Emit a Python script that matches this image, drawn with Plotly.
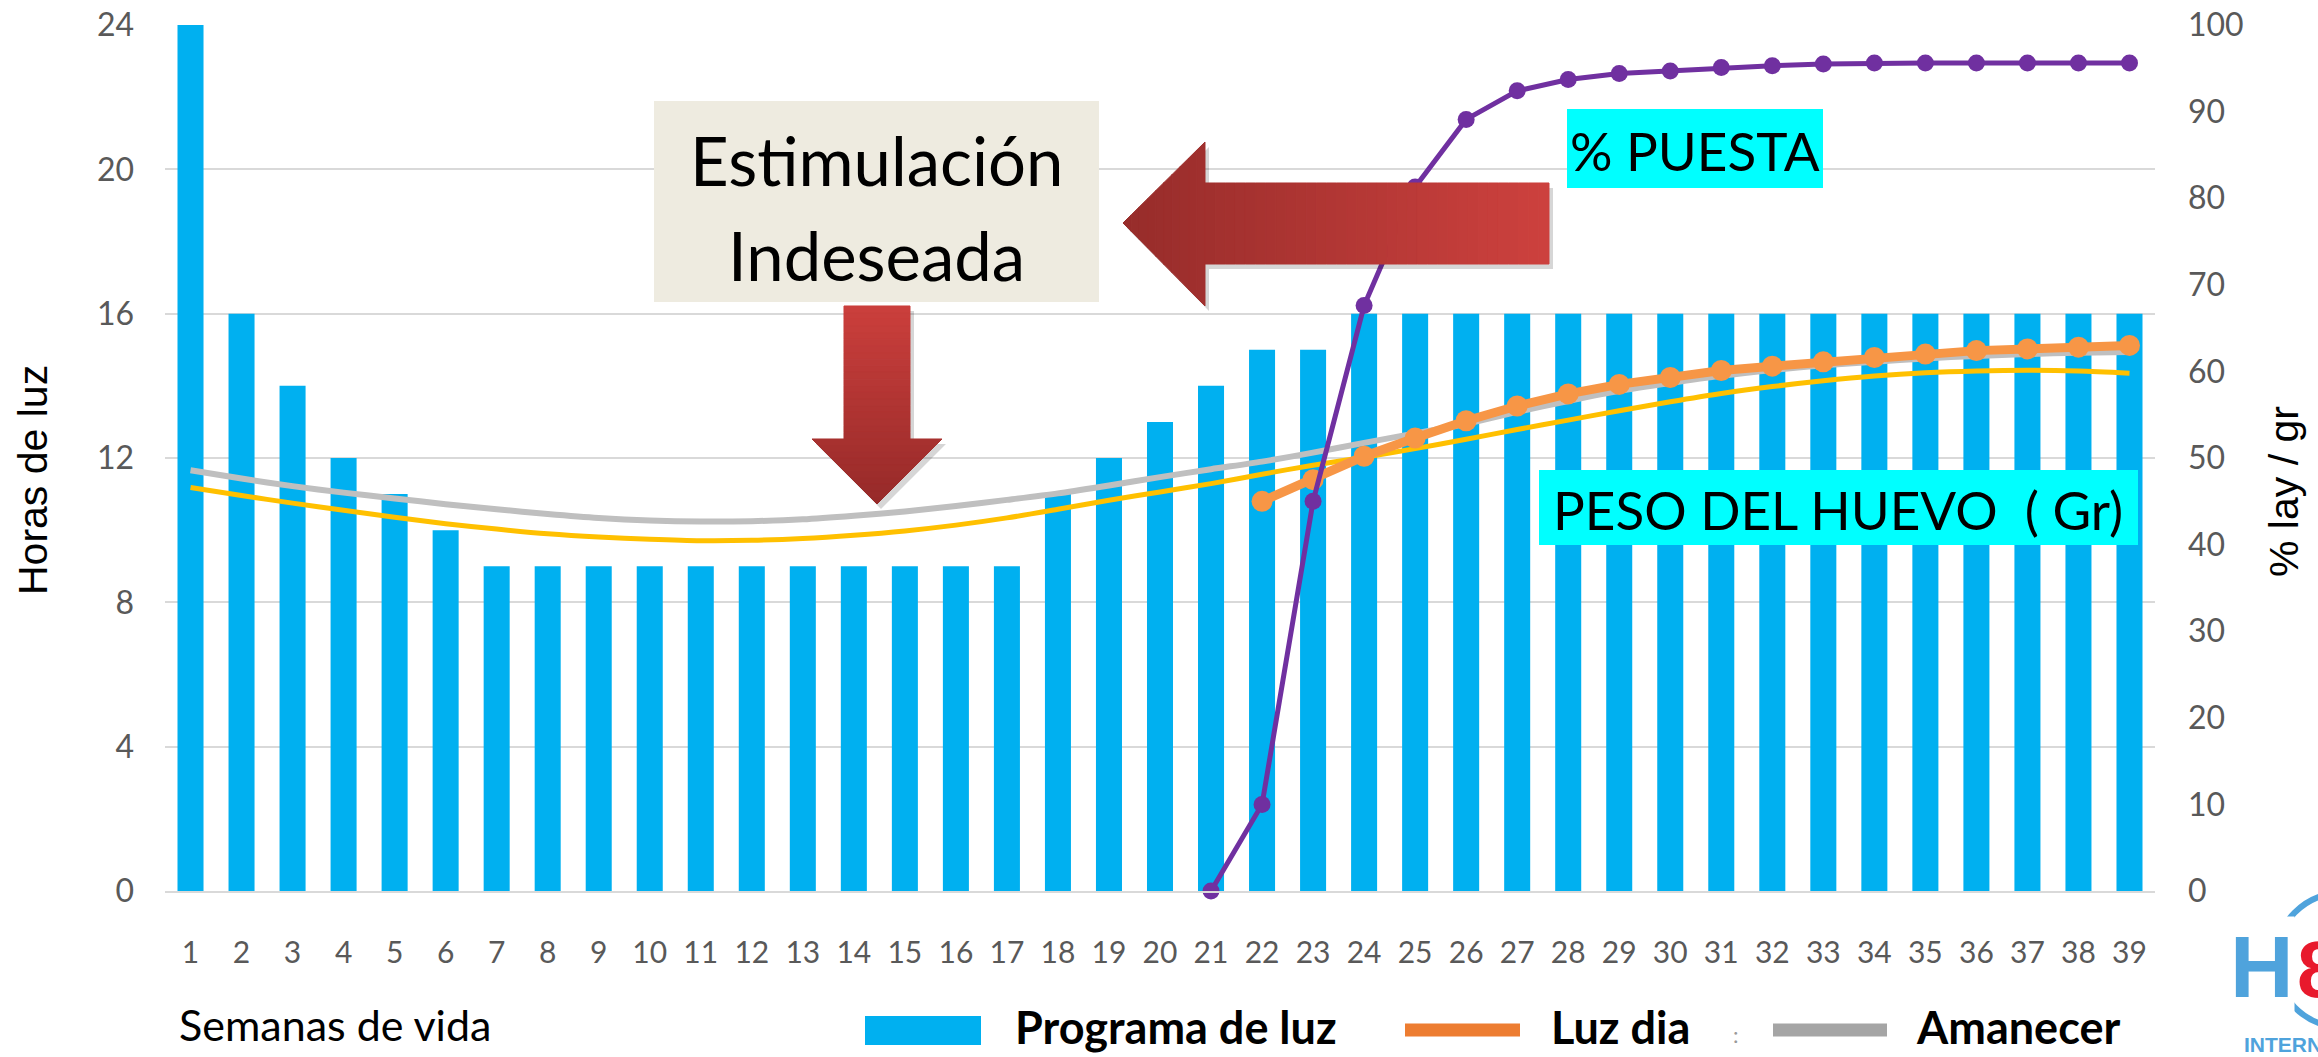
import plotly.graph_objects as go

# ---------------- data ----------------
weeks = [1, 2, 3, 4, 5, 6, 7, 8, 9, 10, 11, 12, 13, 14, 15, 16, 17, 18, 19, 20,
         21, 22, 23, 24, 25, 26, 27, 28, 29, 30, 31, 32, 33, 34, 35, 36, 37, 38, 39]
week_labels = [str(w) for w in weeks]

programa_luz = [24, 16, 14, 12, 11, 10, 9, 9, 9, 9, 9, 9, 9, 9, 9, 9, 9, 11, 12, 13,
                14, 15, 15, 16, 16, 16, 16, 16, 16, 16, 16, 16, 16, 16, 16, 16, 16, 16, 16]

amanecer = [11.66, 11.43, 11.22, 11.04, 10.88, 10.72, 10.58, 10.45, 10.34, 10.27,
            10.24, 10.25, 10.30, 10.40, 10.52, 10.67, 10.84, 11.02, 11.24, 11.47,
            11.69, 11.90, 12.15, 12.42, 12.68, 12.95, 13.28, 13.58, 13.86, 14.08,
            14.28, 14.44, 14.57, 14.67, 14.76, 14.83, 14.88, 14.92, 14.94]

luz_amarilla = [11.18, 10.96, 10.75, 10.55, 10.36, 10.18, 10.03, 9.90, 9.81, 9.75,
                9.71, 9.72, 9.77, 9.86, 9.98, 10.14, 10.34, 10.58, 10.83, 11.06,
                11.29, 11.55, 11.80, 12.02, 12.26, 12.52, 12.79, 13.05, 13.31, 13.56,
                13.79, 13.98, 14.14, 14.27, 14.36, 14.41, 14.43, 14.41, 14.35]

weeks_peso = [22, 23, 24, 25, 26, 27, 28, 29, 30, 31, 32, 33, 34, 35, 36, 37, 38, 39]
peso_huevo = [45.0, 47.5, 50.2, 52.3, 54.3, 56.0, 57.4, 58.5, 59.3, 60.1, 60.6, 61.1,
              61.6, 62.0, 62.4, 62.6, 62.8, 63.0]

weeks_puesta = [21, 22, 23, 24, 25, 26, 27, 28, 29, 30, 31, 32, 33, 34, 35, 36, 37, 38, 39]
puesta = [0, 10, 45, 67.6, 81.3, 89.1, 92.4, 93.7, 94.4, 94.7, 95.1, 95.3, 95.5, 95.6,
          95.6, 95.6, 95.6, 95.6, 95.6]

left_ticks = [0, 4, 8, 12, 16, 20, 24]
right_ticks = [0, 10, 20, 30, 40, 50, 60, 70, 80, 90, 100]

# ---------------- geometry helpers (pixel -> paper) ----------------
W_FIG, H_FIG = 2318, 1057
L, R, T, B = 165, 2155, 25, 891
PW, PH = R - L, B - T


def PX(x):
    return (x - L) / PW


def PY(y):
    return (B - y) / PH


def hex2rgb(h):
    h = h.lstrip('#')
    return tuple(int(h[i:i + 2], 16) for i in (0, 2, 4))


def mix(c1, c2, t):
    a, b = hex2rgb(c1), hex2rgb(c2)
    return 'rgb(%d,%d,%d)' % tuple(round(a[i] + (b[i] - a[i]) * t) for i in range(3))


def poly(pts):
    return 'M ' + ' L '.join('%.6f,%.6f' % (PX(x), PY(y)) for x, y in pts) + ' Z'


FONT = 'Lato, "Open Sans", sans-serif'
ARIAL = '"Liberation Sans", Arial, sans-serif'
TICK_COLOR = '#595959'

fig = go.Figure()

fig.add_trace(go.Bar(x=weeks, y=programa_luz, name='Programa de luz',
                     marker=dict(color='#00B0F0', line=dict(width=0)),
                     showlegend=False, yaxis='y'))

fig.add_trace(go.Scatter(x=weeks, y=luz_amarilla, mode='lines', name='Linea amarilla',
                         line=dict(color='#FFC000', width=5, shape='spline', smoothing=0.8),
                         showlegend=False, yaxis='y'))
fig.add_trace(go.Scatter(x=weeks, y=amanecer, mode='lines', name='Amanecer',
                         line=dict(color='#BFBFBF', width=6, shape='spline', smoothing=0.8),
                         showlegend=False, yaxis='y'))
fig.add_trace(go.Scatter(x=weeks_peso, y=peso_huevo, mode='lines+markers', name='Luz dia',
                         line=dict(color='#F79646', width=9),
                         marker=dict(color='#F79646', size=21),
                         showlegend=False, yaxis='y2', cliponaxis=False))
fig.add_trace(go.Scatter(x=weeks_puesta, y=puesta, mode='lines+markers', name='% PUESTA',
                         line=dict(color='#7030A0', width=5),
                         marker=dict(color='#7030A0', size=17),
                         showlegend=False, yaxis='y2', cliponaxis=False))

shapes = []
annotations = []

# ---- beige box "Estimulación Indeseada"
shapes.append(dict(type='rect', xref='paper', yref='paper',
                   x0=PX(654), x1=PX(1099), y0=PY(302), y1=PY(101),
                   fillcolor='#EEEBE0', line=dict(width=0), layer='above'))
annotations.append(dict(xref='paper', yref='paper', x=PX(876), y=PY(160), text='Estimulación',
                        showarrow=False, xanchor='center', yanchor='middle',
                        font=dict(family=FONT, size=67, color='black')))
annotations.append(dict(xref='paper', yref='paper', x=PX(876), y=PY(255), text='Indeseada',
                        showarrow=False, xanchor='center', yanchor='middle',
                        font=dict(family=FONT, size=67, color='black')))

# ---- left arrow (horizontal gradient)
tipx, tipy = 1123, 223
hx, htop, hbot = 1205, 142, 306
sx1, stop, sbot = 1549, 183, 264
shadow_pts = [(tipx, tipy), (hx, htop), (hx, stop), (sx1, stop), (sx1, sbot), (hx, sbot), (hx, hbot)]
shapes.append(dict(type='path', xref='paper', yref='paper',
                   path=poly([(x + 4, y + 5) for x, y in shadow_pts]),
                   fillcolor='rgba(0,0,0,0.16)', line=dict(width=0), layer='above'))


def head_top(x):
    return tipy - (x - tipx) / (hx - tipx) * (tipy - htop)


def head_bot(x):
    return tipy + (x - tipx) / (hx - tipx) * (hbot - tipy)


n_head, n_shaft = 10, 34
xs = [tipx + (hx - tipx) * i / n_head for i in range(n_head + 1)]
xs += [hx + (sx1 - hx) * i / n_shaft for i in range(1, n_shaft + 1)]
for i in range(len(xs) - 1):
    a, b = xs[i], xs[i + 1]
    t = ((a + b) / 2 - tipx) / (sx1 - tipx)
    col = mix('#962C2A', '#CD413E', t)
    if b <= hx + 1e-9:
        pts = [(a, head_top(a)), (b, head_top(b)), (b, head_bot(b)), (a, head_bot(a))]
    else:
        pts = [(a, stop), (b, stop), (b, sbot), (a, sbot)]
    shapes.append(dict(type='path', xref='paper', yref='paper', path=poly(pts),
                       fillcolor=col, line=dict(color=col, width=1), layer='above'))

# ---- down arrow (vertical gradient)
dx0, dx1, dtop = 844, 910, 306
dhy, dhx0, dhx1 = 439, 812, 942
dtipx, dtipy = 877, 504
shadow_pts = [(dx0, dtop), (dx1, dtop), (dx1, dhy), (dhx1, dhy), (dtipx, dtipy), (dhx0, dhy), (dx0, dhy)]
shapes.append(dict(type='path', xref='paper', yref='paper',
                   path=poly([(x + 4, y + 5) for x, y in shadow_pts]),
                   fillcolor='rgba(0,0,0,0.16)', line=dict(width=0), layer='above'))


def dhalf(y):
    return (dtipy - y) / (dtipy - dhy) * (dhx1 - dhx0) / 2


ys = [dtop + (dhy - dtop) * i / 20 for i in range(21)]
ys += [dhy + (dtipy - dhy) * i / 10 for i in range(1, 11)]
for i in range(len(ys) - 1):
    a, b = ys[i], ys[i + 1]
    t = ((a + b) / 2 - dtop) / (dtipy - dtop)
    col = mix('#CB3F3C', '#962A29', t)
    if a >= dhy - 1e-9:
        pts = [(dtipx - dhalf(a), a), (dtipx + dhalf(a), a), (dtipx + dhalf(b), b), (dtipx - dhalf(b), b)]
    else:
        pts = [(dx0, a), (dx1, a), (dx1, b), (dx0, b)]
    shapes.append(dict(type='path', xref='paper', yref='paper', path=poly(pts),
                       fillcolor=col, line=dict(color=col, width=1), layer='above'))

# ---- cyan labels
shapes.append(dict(type='rect', xref='paper', yref='paper',
                   x0=PX(1567), x1=PX(1823), y0=PY(188), y1=PY(109),
                   fillcolor='#00FFFF', line=dict(width=0), layer='above'))
annotations.append(dict(xref='paper', yref='paper', x=PX(1695), y=PY(150), text='% PUESTA',
                        showarrow=False, xanchor='center', yanchor='middle',
                        font=dict(family=FONT, size=53, color='black')))
shapes.append(dict(type='rect', xref='paper', yref='paper',
                   x0=PX(1539), x1=PX(2138), y0=PY(545), y1=PY(470),
                   fillcolor='#00FFFF', line=dict(width=0), layer='above'))
annotations.append(dict(xref='paper', yref='paper', x=PX(1838), y=PY(509),
                        text='PESO DEL HUEVO \u00a0( Gr)',
                        showarrow=False, xanchor='center', yanchor='middle',
                        font=dict(family=FONT, size=53, color='black')))

# ---- axis titles
annotations.append(dict(xref='paper', yref='paper', x=PX(33), y=PY(480), text='Horas de luz',
                        textangle=-90, showarrow=False, xanchor='center', yanchor='middle',
                        font=dict(family=ARIAL, size=41, color='black')))
annotations.append(dict(xref='paper', yref='paper', x=PX(2284), y=PY(492), text='% lay / gr',
                        textangle=-90, showarrow=False, xanchor='center', yanchor='middle',
                        font=dict(family=ARIAL, size=41, color='black')))
annotations.append(dict(xref='paper', yref='paper', x=PX(177), y=PY(1024), text='Semanas de vida',
                        showarrow=False, xanchor='left', yanchor='middle',
                        font=dict(family=FONT, size=43, color='black')))

# ---- manual legend
LEG_Y = 1027
shapes.append(dict(type='rect', xref='paper', yref='paper',
                   x0=PX(865), x1=PX(981), y0=PY(1045), y1=PY(1016),
                   fillcolor='#00B0F0', line=dict(width=0)))
annotations.append(dict(xref='paper', yref='paper', x=PX(1013), y=PY(LEG_Y), text='<b>Programa de luz</b>',
                        showarrow=False, xanchor='left', yanchor='middle',
                        font=dict(family=FONT, size=45, color='black')))
shapes.append(dict(type='line', xref='paper', yref='paper',
                   x0=PX(1405), x1=PX(1520), y0=PY(1030), y1=PY(1030),
                   line=dict(color='#ED7D31', width=13)))
annotations.append(dict(xref='paper', yref='paper', x=PX(1549), y=PY(LEG_Y), text='<b>Luz dia</b>',
                        showarrow=False, xanchor='left', yanchor='middle',
                        font=dict(family=FONT, size=45, color='black')))
annotations.append(dict(xref='paper', yref='paper', x=PX(1736), y=PY(1034), text=':',
                        showarrow=False, xanchor='center', yanchor='middle',
                        font=dict(family=FONT, size=22, color='#9A9A9A')))
shapes.append(dict(type='line', xref='paper', yref='paper',
                   x0=PX(1773), x1=PX(1887), y0=PY(1030), y1=PY(1030),
                   line=dict(color='#A5A5A5', width=13)))
annotations.append(dict(xref='paper', yref='paper', x=PX(1914), y=PY(LEG_Y), text='<b>Amanecer</b>',
                        showarrow=False, xanchor='left', yanchor='middle',
                        font=dict(family=FONT, size=45, color='black')))

# ---- logo (partially cut at the right edge)
shapes.append(dict(type='circle', xref='paper', yref='paper',
                   x0=PX(2342 - 67), x1=PX(2342 + 67), y0=PY(960 + 67), y1=PY(960 - 67),
                   line=dict(color='#4FA3DC', width=6), fillcolor='rgba(0,0,0,0)'))
annotations.append(dict(xref='paper', yref='paper', x=PX(2295), y=PY(966), text='<b>H</b>',
                        showarrow=False, xanchor='right', yanchor='middle', bgcolor='white',
                        borderpad=0,
                        font=dict(family=ARIAL, size=88, color='#4FA3DC')))
annotations.append(dict(xref='paper', yref='paper', x=PX(2295), y=PY(969), text='<b>8</b>',
                        showarrow=False, xanchor='left', yanchor='middle',
                        font=dict(family=ARIAL, size=80, color='#E8192C')))
annotations.append(dict(xref='paper', yref='paper', x=PX(2242), y=PY(1044), text='<b>INTERNATIONAL</b>',
                        showarrow=False, xanchor='left', yanchor='middle',
                        font=dict(family='"Liberation Sans Narrow", "Liberation Sans", sans-serif',
                                  size=21, color='#4FA3DC')))

fig.update_layout(
    width=W_FIG, height=H_FIG,
    margin=dict(l=L, r=W_FIG - R, t=T, b=H_FIG - B, autoexpand=False),
    paper_bgcolor='white', plot_bgcolor='white',
    bargap=0.49,
    showlegend=False,
    font=dict(family=FONT, color=TICK_COLOR),
    xaxis=dict(range=[0.5, 39.5], tickmode='array', tickvals=weeks, ticktext=week_labels,
               showgrid=False, zeroline=False, showline=True, linecolor='#D9D9D9', linewidth=2,
               ticks='', tickfont=dict(family=FONT, size=30, color=TICK_COLOR),
               ticklabelstandoff=34),
    yaxis=dict(range=[0, 24], tickmode='array', tickvals=left_ticks,
               showgrid=True, gridcolor='#D9D9D9', gridwidth=2, zeroline=False,
               ticks='', tickfont=dict(family=FONT, size=32, color=TICK_COLOR),
               ticklabelstandoff=30),
    yaxis2=dict(range=[0, 100], tickmode='array', tickvals=right_ticks, overlaying='y',
                side='right', showgrid=False, zeroline=False, ticks='',
                tickfont=dict(family=FONT, size=32, color=TICK_COLOR),
                ticklabelstandoff=32),
    shapes=shapes,
    annotations=annotations,
)

fig.write_html("out.html", config={'displayModeBar': False},
               post_script="document.body.style.margin='0';document.body.style.overflow='hidden';")
